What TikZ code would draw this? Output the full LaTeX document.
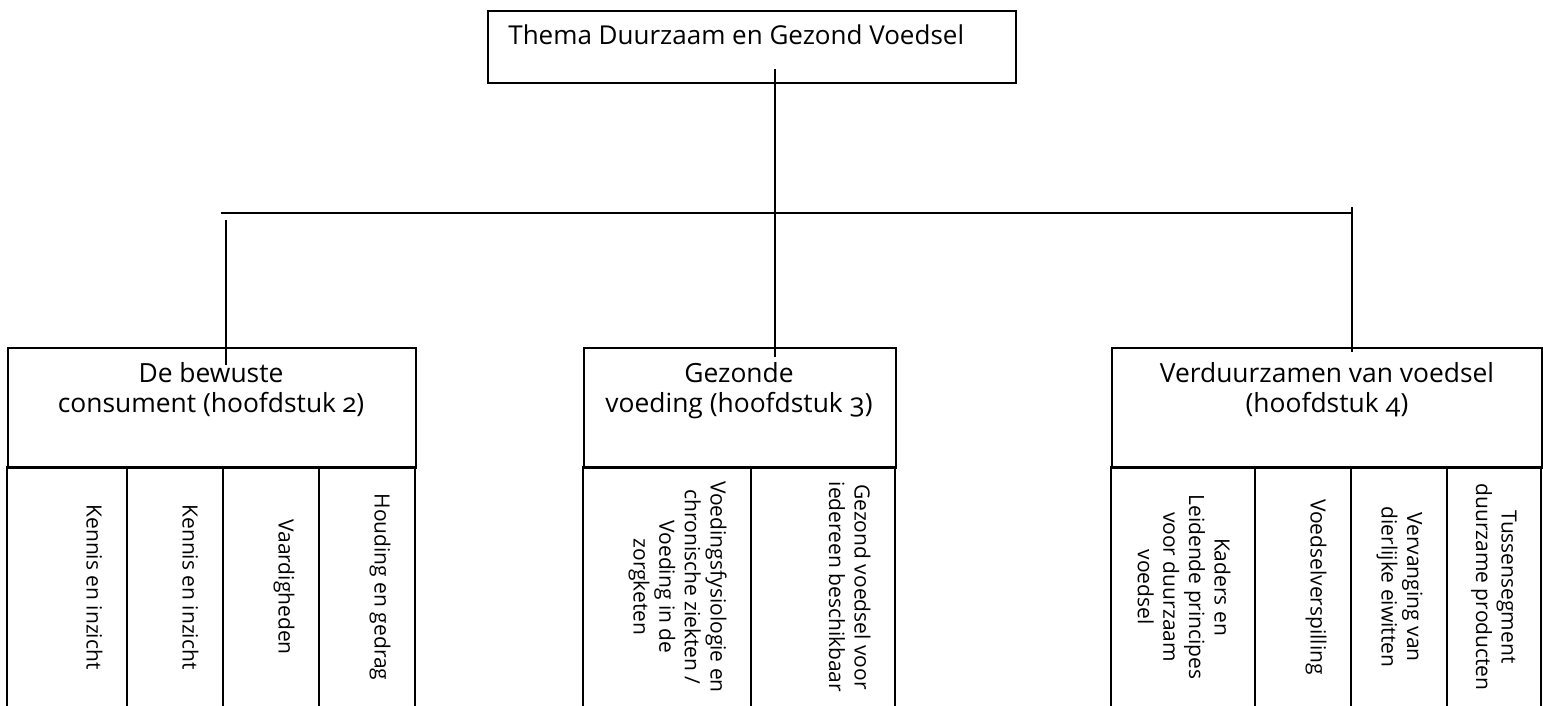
\documentclass[tikz,border=0pt]{standalone}
\usepackage{fontspec}
\setmainfont{Open Sans}[Numbers=OldStyle]
\tikzset{
  frame/.style={draw=black,line width=1pt},
  link/.style={draw=black,line width=1pt},
  headbox/.style={frame,anchor=north west,inner sep=0pt,minimum height=60pt},
  title/.style={inner sep=0pt,anchor=base west,font=\fontsize{13}{16}\selectfont},
  head/.style={inner sep=0pt,anchor=north,align=center,font=\fontsize{13.2}{15}\selectfont},
  cell/.style={inner sep=0pt,anchor=north,rotate=-90,align=center,font=\fontsize{10.5}{12.8}\selectfont}
}
\begin{document}
\begin{tikzpicture}[x=0.5pt,y=-0.5pt]
\useasboundingbox (0,0) rectangle (1543,706);
% top box
\node[frame,anchor=north west,inner sep=0pt,minimum width=264pt,minimum height=36pt] (themabox) at (487,10) {};
\node[title] (thema) at (508,45) {Thema Duurzaam en Gezond Voedsel};
% three chapter boxes
\node[headbox,minimum width=204pt] (consbox) at (7,347) {};
\node[headbox,minimum width=156pt] (gezbox) at (583,347) {};
\node[headbox,minimum width=215pt] (duurbox) at (1111,347) {};
\node[head] (cons) at (211,362) {De bewuste\\consument (hoofdstuk 2)};
\node[head] (gez) at (739,362) {Gezonde\\voeding (hoofdstuk 3)};
\node[head] (duur) at (1327,362) {Verduurzamen van voedsel\\(hoofdstuk 4)};
% columns
\draw[frame] (7,467) rectangle (127,730);
\draw[frame] (127,467) rectangle (223,730);
\draw[frame] (223,467) rectangle (319,730);
\draw[frame] (319,467) rectangle (415,730);
\draw[frame] (583,467) rectangle (751,730);
\draw[frame] (751,467) rectangle (895,730);
\draw[frame] (1111,467) rectangle (1255,730);
\draw[frame] (1255,467) rectangle (1351,730);
\draw[frame] (1351,467) rectangle (1447,730);
\draw[frame] (1447,467) rectangle (1541,730);
\node[cell] (kennisa) at (103,587) {Kennis en inzicht};
\node[cell] (kennisb) at (199,587) {Kennis en inzicht};
\node[cell] (vaard) at (295,587) {Vaardigheden};
\node[cell] (houding) at (391,587) {Houding en gedrag};
\node[cell] (fysio) at (727,587) {Voedingsfysiologie en\\chronische ziekten /\\Voeding in de\\zorgketen};
\node[cell] (iedereen) at (871,587) {Gezond voedsel voor\\iedereen beschikbaar};
\node[cell] (kaders) at (1231,587) {Kaders en\\Leidende principes\\voor duurzaam\\voedsel};
\node[cell] (verspil) at (1327,587) {Voedselverspilling};
\node[cell] (eiwit) at (1423,587) {Vervanging van\\dierlijke eiwitten};
\node[cell] (tussen) at (1517,587) {Tussensegment\\duurzame producten};
% connectors
\coordinate (stem) at (775,69);
\coordinate (barl) at (221,213);
\coordinate (barr) at (1352,213);
\coordinate (dropl) at (226,220);
\coordinate (dropr) at (1352,207);
\draw[link] (stem) -- (775,357);
\draw[link] (barl) -- (barr);
\draw[link] (dropl) -- (226,365);
\draw[link] (dropr) -- (1352,352);
\end{tikzpicture}
\end{document}
